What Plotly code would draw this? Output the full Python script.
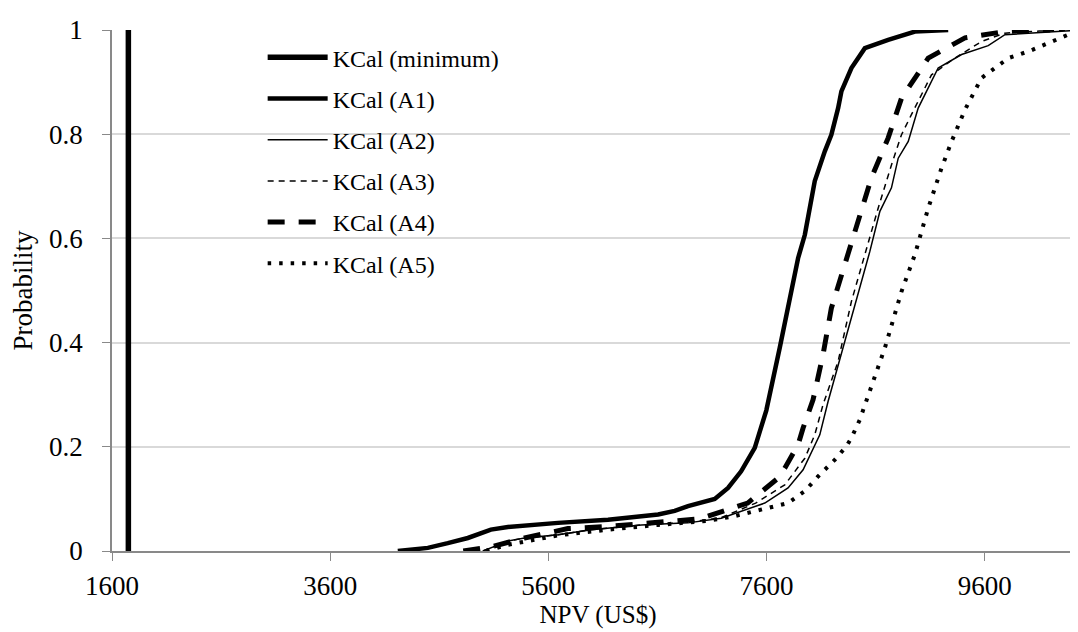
import plotly.graph_objects as go

# ---- data ----
min_x = [1750, 1750]
min_y = [0, 1]

a1_x = [4220, 4495, 4678, 4862, 5073, 5229, 5688, 6147, 6606, 6758, 6880, 7061, 7125, 7247, 7367, 7492,
        7598, 7721, 7797, 7889, 7951, 8042, 8134, 8194, 8256, 8286, 8378, 8501, 8715, 8960, 9265]
a1_y = [0, 0.006, 0.015, 0.025, 0.041, 0.046, 0.054, 0.060, 0.070, 0.077, 0.086, 0.095, 0.100, 0.121, 0.153, 0.198,
        0.270, 0.390, 0.466, 0.562, 0.607, 0.710, 0.767, 0.799, 0.850, 0.882, 0.927, 0.965, 0.981, 0.997, 1.0]

a2_x = [5000, 5073, 5229, 5382, 5688, 5994, 6453, 6880, 7185, 7584, 7797, 7935, 8026, 8088, 8164, 8317,
        8439, 8547, 8639, 8745, 8807, 8899, 8990, 9173, 9388, 9632, 9785, 10244, 10490]
a2_y = [0, 0.006, 0.019, 0.025, 0.031, 0.041, 0.050, 0.054, 0.063, 0.092, 0.121, 0.156, 0.194, 0.223, 0.287, 0.402,
        0.492, 0.575, 0.652, 0.697, 0.754, 0.786, 0.850, 0.927, 0.953, 0.970, 0.991, 0.997, 1.0]

a3_x = [5000, 5073, 5229, 5382, 5688, 5994, 6453, 6880, 7185, 7500, 7767, 7951, 8042, 8118, 8256, 8378,
        8501, 8623, 8745, 8837, 8929, 9112, 9326, 9571, 9785, 10100, 10450]
a3_y = [0, 0.006, 0.019, 0.025, 0.031, 0.041, 0.050, 0.055, 0.064, 0.092, 0.127, 0.178, 0.223, 0.281, 0.364, 0.479,
        0.569, 0.658, 0.741, 0.799, 0.838, 0.914, 0.946, 0.978, 0.994, 0.998, 1.0]

a4_x = [4820, 5073, 5382, 5779, 6147, 6606, 7000, 7061, 7427, 7706, 7767, 7889, 7935, 8026, 8118, 8194,
        8317, 8439, 8561, 8715, 8837, 9082, 9419, 9785, 10200]
a4_y = [0, 0.008, 0.025, 0.043, 0.047, 0.054, 0.062, 0.067, 0.092, 0.140, 0.159, 0.204, 0.236, 0.290, 0.377, 0.466,
        0.550, 0.633, 0.716, 0.793, 0.869, 0.946, 0.985, 0.997, 1.0]

a5_x = [5030, 5229, 5688, 6147, 6606, 7061, 7308, 7614, 7797, 7951, 8072, 8225, 8332, 8378, 8455, 8501,
        8547, 8685, 8837, 8960, 9082, 9204, 9296, 9419, 9571, 9816, 10015, 10199, 10365, 10473]
a5_y = [0, 0.012, 0.030, 0.041, 0.050, 0.058, 0.067, 0.083, 0.092, 0.115, 0.143, 0.175, 0.201, 0.217, 0.252, 0.280,
        0.307, 0.390, 0.498, 0.569, 0.658, 0.735, 0.786, 0.847, 0.908, 0.946, 0.960, 0.977, 0.991, 0.996]

x_ticks = [1600, 3600, 5600, 7600, 9600]
y_ticks = [0, 0.2, 0.4, 0.6, 0.8, 1]
y_ticktext = ["0", "0.2", "0.4", "0.6", "0.8", "1"]

FONT = "Liberation Serif"

fig = go.Figure()
series = [
    ("KCal (minimum)", min_x, min_y, dict(color="black", width=5.5)),
    ("KCal (A1)", a1_x, a1_y, dict(color="black", width=4.5)),
    ("KCal (A2)", a2_x, a2_y, dict(color="black", width=1.5)),
    ("KCal (A3)", a3_x, a3_y, dict(color="black", width=1.5, dash="6px,5px")),
    ("KCal (A4)", a4_x, a4_y, dict(color="black", width=5, dash="17px,14px")),
    ("KCal (A5)", a5_x, a5_y, dict(color="black", width=4, dash="3.5px,8px")),
]
for i, (name, xs, ys, ln) in enumerate(series):
    fig.add_trace(go.Scatter(x=xs, y=ys, mode="lines", name=name, line=ln,
                             legendgroup="g%d" % i))

fig.update_layout(
    width=1078, height=632,
    margin=dict(l=104, r=2, t=22, b=89),
    paper_bgcolor="white", plot_bgcolor="white",
    font=dict(family=FONT, size=27, color="black"),
    showlegend=True,
    legend=dict(x=0.155, y=0.99, xanchor="left", yanchor="top",
                bgcolor="rgba(0,0,0,0)", font=dict(family=FONT, size=24),
                tracegroupgap=7, itemwidth=60),
    xaxis=dict(range=[1600, 10510], tickvals=x_ticks, ticks="outside", ticklen=8,
               tickcolor="#898989", showline=True, linecolor="#898989", linewidth=1.5,
               showgrid=False, zeroline=False, ticklabelstandoff=2,
               title=dict(text="NPV (US$)", standoff=5, font=dict(family=FONT, size=25))),
    yaxis=dict(range=[0, 1], tickvals=y_ticks, ticktext=y_ticktext, ticks="outside", ticklen=8,
               tickcolor="#898989", showline=True, linecolor="#898989", linewidth=1.5,
               showgrid=True, gridcolor="#d9d9d9", gridwidth=1.5, zeroline=False,
               ticklabelstandoff=14,
               title=dict(text="Probability", standoff=9, font=dict(family=FONT, size=27))),
)

fig.write_html("out.html")
